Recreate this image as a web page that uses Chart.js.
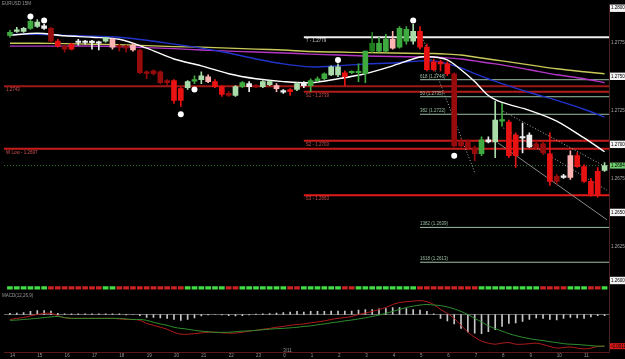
<!DOCTYPE html>
<html>
<head>
<meta charset="utf-8">
<script src="https://cdn.jsdelivr.net/npm/chart.js@4.4.1/dist/chart.umd.min.js"></script>
<style>
  html, body { margin: 0; padding: 0; background: #000; }
</style>
</head>
<body>
<canvas id="priceChart" width="625" height="359"></canvas>
<script>
// EURUSD 15M candles, one per 15 minutes
const hourLabels = ['14','15','16','17','18','19','20','21','22','23','0','1','2','3','4','5','6','7','8','9','10','11'];

const opens = [1.27801,1.27830,1.27830,1.27852,1.27866,1.27870,1.27852,1.27758,1.27722,1.27736,
  1.27751,1.27751,1.27751,1.27743,1.27758,1.27772,1.27722,1.27722,1.27729,1.27693,
  1.27533,1.27540,1.27533,1.27468,1.27468,1.27410,1.27417,1.27464,1.27475,1.27497,
  1.27461,1.27424,1.27374,1.27359,1.27424,1.27446,1.27432,1.27424,1.27439,1.27432,
  1.27395,1.27403,1.27403,1.27432,1.27432,1.27468,1.27482,1.27511,1.27511,1.27526,
  1.27526,1.27526,1.27519,1.27685,1.27685,1.27685,1.27772,1.27714,1.27758,1.27758,
  1.27830,1.27714,1.27606,1.27606,1.27591,1.27519,1.27026,1.27026,1.26975,1.26931,
  1.27018,1.27018,1.27171,1.27163,1.27069,1.27047,1.26982,1.27004,1.27004,1.26931,
  1.26765,1.26757,1.26757,1.26917,1.26837,1.26728,1.26801,1.26808];
const highs = [1.27838,1.27859,1.27859,1.27917,1.27917,1.27881,1.27859,1.27772,1.27729,1.27743,
  1.27772,1.27765,1.27765,1.27758,1.27787,1.27780,1.27736,1.27729,1.27743,1.27700,
  1.27540,1.27548,1.27540,1.27475,1.27475,1.27417,1.27468,1.27504,1.27533,1.27511,
  1.27475,1.27432,1.27388,1.27432,1.27461,1.27461,1.27439,1.27468,1.27468,1.27446,
  1.27403,1.27410,1.27453,1.27461,1.27482,1.27497,1.27526,1.27577,1.27591,1.27540,
  1.27540,1.27591,1.27685,1.27823,1.27787,1.27809,1.27830,1.27866,1.27866,1.27881,
  1.27866,1.27736,1.27627,1.27620,1.27606,1.27526,1.27040,1.27033,1.26989,1.27055,
  1.27055,1.27316,1.27301,1.27178,1.27084,1.27156,1.27084,1.27026,1.27018,1.27084,
  1.26779,1.26779,1.26953,1.26939,1.26852,1.26750,1.26830,1.26866];
const lows = [1.27787,1.27823,1.27823,1.27845,1.27859,1.27845,1.27751,1.27714,1.27678,1.27693,
  1.27729,1.27736,1.27700,1.27693,1.27751,1.27700,1.27685,1.27678,1.27685,1.27519,
  1.27482,1.27511,1.27446,1.27439,1.27301,1.27279,1.27403,1.27446,1.27446,1.27453,
  1.27417,1.27352,1.27352,1.27352,1.27417,1.27388,1.27417,1.27417,1.27432,1.27388,
  1.27374,1.27359,1.27395,1.27417,1.27388,1.27461,1.27475,1.27504,1.27497,1.27432,
  1.27519,1.27461,1.27453,1.27678,1.27678,1.27678,1.27700,1.27707,1.27736,1.27736,
  1.27700,1.27540,1.27540,1.27540,1.27504,1.26982,1.26982,1.26960,1.26881,1.26917,
  1.27011,1.26902,1.27134,1.26902,1.26830,1.26938,1.26975,1.26968,1.26924,1.26699,
  1.26707,1.26750,1.26743,1.26830,1.26721,1.26620,1.26612,1.26801];
const closes = [1.27823,1.27841,1.27852,1.27903,1.27899,1.27852,1.27758,1.27722,1.27700,1.27700,
  1.27748,1.27748,1.27747,1.27754,1.27787,1.27714,1.27714,1.27707,1.27693,1.27526,
  1.27522,1.27519,1.27453,1.27453,1.27323,1.27323,1.27461,1.27475,1.27504,1.27461,
  1.27424,1.27366,1.27359,1.27424,1.27453,1.27424,1.27422,1.27461,1.27461,1.27410,
  1.27384,1.27388,1.27446,1.27450,1.27468,1.27482,1.27519,1.27569,1.27569,1.27497,
  1.27535,1.27535,1.27685,1.27743,1.27743,1.27772,1.27707,1.27852,1.27845,1.27830,
  1.27714,1.27548,1.27548,1.27591,1.27519,1.26989,1.26989,1.26975,1.26931,1.27033,
  1.27033,1.27178,1.27181,1.26917,1.26917,1.27055,1.27069,1.26975,1.26939,1.26728,
  1.26728,1.26768,1.26917,1.26837,1.26728,1.26634,1.26627,1.26844];

// paint-bar state of each candle (3 strong up ... -3 strong down)
const barTrend = [2,1,1,2,1,0,-3,-2,-3,-2,
  0,0,0,0,1,-1,-3,-3,-1,-3,
  -3,-3,-3,-3,-2,-2,1,2,1,-1,
  -2,-2,-3,1,2,0,-3,1,1,-1,
  0,-2,1,0,2,2,2,1,1,-2,
  2,2,2,3,2,2,-1,2,2,1,
  -2,-2,-2,-2,-2,-3,-3,-3,-3,2,
  0,1,2,-2,-2,0,0,-3,-3,-2,
  -3,0,-1,-2,-2,-2,-2,1];

// trend strip under the price pane
const stripState = [1,1,1,1,1,1,-1,-1,-1,-1,-1,-1,-1,-1,1,1,
  -1,-1,-1,-1,-1,-1,-1,-1,-1,-1,1,1,1,1,1,1,-1,-1,
  1,1,1,1,1,1,1,-1,-1,1,1,1,1,1,1,-1,-1,
  1,1,1,1,1,1,1,1,1,-1,-1,-1,-1,-1,-1,-1,-1,-1,
  1,1,1,1,1,1,1,1,1,-1,-1,-1,-1,1,1,1,-1,-1,1];

// moving averages, read at these candles
const maIdx = [0,4,8,12,16,20,24,28,32,36,40,44,48,52,56,60,62,64,66,68,70,72,76,80,84,87];
const maWhite = [1.27801,1.27816,1.27798,1.27787,1.27772,1.27707,1.27627,1.27577,1.27519,1.27482,1.27461,1.27453,1.27482,
  1.27519,1.27577,1.27642,1.27642,1.27620,1.27548,1.27461,1.27359,1.27308,1.27250,1.27171,1.27047,1.26946];
const maBlue = [1.27808,1.27808,1.27801,1.27794,1.27787,1.27765,1.27736,1.27707,1.27671,1.27627,1.27591,1.27569,1.27577,
  1.27591,1.27598,1.27613,1.27613,1.27591,1.27562,1.27519,1.27482,1.27446,1.27381,1.27323,1.27258,1.27200];
const maPurple = [1.27722,1.27722,1.27722,1.27722,1.27718,1.27711,1.27703,1.27693,1.27685,1.27678,1.27671,1.27663,1.27656,
  1.27649,1.27645,1.27642,1.27642,1.27635,1.27627,1.27613,1.27598,1.27584,1.27548,1.27511,1.27482,1.27453];
const maYellow = [1.27743,1.27743,1.27740,1.27736,1.27732,1.27725,1.27718,1.27714,1.27707,1.27700,1.27693,1.27682,1.27678,
  1.27674,1.27671,1.27667,1.27667,1.27663,1.27656,1.27642,1.27627,1.27613,1.27584,1.27555,1.27533,1.27519];

// pivot levels
const levelNames = ['T', '', 'S1', 'S2', 'W Low', 'S3'];
const levelPrices = [1.27787, 1.27426, 1.27386, 1.27026, 1.26968, 1.26627];
const levelStart = [43, null, 43, 43, null, 43];

// fibonacci levels
const fibNames = ['618', '50', '382', '1382', '1618'];
const fibPrices = [1.27475, 1.27350, 1.27221, 1.26390, 1.26134];
const fibStart = 60;

// drawn trend / channel lines
const trendFromIdx = [60, 72.2, 72.2, 71.4];
const trendFromPrice = [1.27830, 1.27243, 1.27120, 1.27011];
const trendToIdx = [68, 87.35, 87.35, 87.35];
const trendToPrice = [1.26794, 1.26830, 1.26663, 1.26446];

// fractal markers
const dotIdx = [3, 5, 25, 27, 48, 59, 65];
const dotPrices = [1.27939, 1.27910, 1.27221, 1.27403, 1.27620, 1.27910, 1.26917];

// MACD(12,26,9)
const macdLine = [-0.00018,-0.00014,-0.00011,-0.00005,0.00000,0.00004,0.00004,-0.00004,-0.00012,-0.00014,
  -0.00014,-0.00014,-0.00014,-0.00014,-0.00014,-0.00014,-0.00016,-0.00018,-0.00018,-0.00021,
  -0.00032,-0.00039,-0.00046,-0.00053,-0.00064,-0.00071,-0.00071,-0.00069,-0.00066,-0.00064,
  -0.00064,-0.00066,-0.00067,-0.00067,-0.00064,-0.00060,-0.00057,-0.00053,-0.00050,-0.00046,
  -0.00043,-0.00039,-0.00036,-0.00034,-0.00030,-0.00027,-0.00023,-0.00018,-0.00014,-0.00011,
  -0.00007,0.00000,0.00005,0.00011,0.00018,0.00025,0.00036,0.00043,0.00046,0.00048,
  0.00050,0.00046,0.00036,0.00018,0.00004,-0.00014,-0.00039,-0.00064,-0.00082,-0.00096,
  -0.00103,-0.00107,-0.00103,-0.00101,-0.00107,-0.00107,-0.00105,-0.00103,-0.00108,-0.00115,
  -0.00121,-0.00119,-0.00117,-0.00121,-0.00124,-0.00121,-0.00115,-0.00114];
const macdSignal = [-0.00021,-0.00020,-0.00018,-0.00016,-0.00014,-0.00011,-0.00009,-0.00007,-0.00011,-0.00014,
  -0.00014,-0.00014,-0.00014,-0.00014,-0.00014,-0.00014,-0.00014,-0.00016,-0.00018,-0.00018,
  -0.00021,-0.00028,-0.00034,-0.00039,-0.00046,-0.00050,-0.00053,-0.00057,-0.00060,-0.00062,
  -0.00064,-0.00064,-0.00064,-0.00062,-0.00060,-0.00059,-0.00057,-0.00055,-0.00053,-0.00051,
  -0.00050,-0.00048,-0.00046,-0.00043,-0.00041,-0.00037,-0.00034,-0.00030,-0.00027,-0.00023,
  -0.00020,-0.00016,-0.00012,-0.00007,-0.00002,0.00004,0.00011,0.00018,0.00025,0.00030,
  0.00034,0.00036,0.00034,0.00032,0.00027,0.00020,0.00011,0.00000,-0.00014,-0.00027,
  -0.00041,-0.00051,-0.00060,-0.00069,-0.00076,-0.00082,-0.00087,-0.00091,-0.00094,-0.00098,
  -0.00101,-0.00105,-0.00107,-0.00108,-0.00110,-0.00112,-0.00114,-0.00114];
const macdHist = [0.00004,0.00005,0.00007,0.00011,0.00014,0.00014,0.00012,0.00004,0.00002,0.00002,
  0.00002,0.00002,0.00002,0.00002,0.00002,0.00002,0.00002,-0.00002,0,-0.00004,
  -0.00011,-0.00011,-0.00012,-0.00014,-0.00018,-0.00021,-0.00018,-0.00012,-0.00005,-0.00002,
  0,-0.00002,-0.00004,-0.00005,-0.00004,-0.00002,0.00001,0.00002,0.00003,0.00005,
  0.00007,0.00009,0.00011,0.00009,0.00011,0.00011,0.00011,0.00012,0.00012,0.00012,
  0.00012,0.00016,0.00018,0.00018,0.00020,0.00021,0.00025,0.00025,0.00021,0.00018,
  0.00016,0.00011,0.00002,-0.00014,-0.00023,-0.00034,-0.00050,-0.00064,-0.00067,-0.00069,
  -0.00062,-0.00055,-0.00043,-0.00032,-0.00030,-0.00025,-0.00018,-0.00012,-0.00014,-0.00018,
  -0.00020,-0.00014,-0.00011,-0.00012,-0.00014,-0.00009,-0.00004,-0.00004];

const xMin = -0.87, xMax = 87.65;
const priceMin = 1.25982, priceMax = 1.28026;
const macdMin = -0.00135, macdMax = 0.00078;

const trendColors = { '3': '#1f7a1f', '2': '#3faa3f', '1': '#a9dca9', '0': '#eeeeee',
  '-1': '#ffb3b3', '-2': '#e81212', '-3': '#960b0b' };
const levelColors = ['#f0f0f0', '#a01818', '#b31c1c', '#c81c1c', '#c81c1c', '#e31b1b'];
const fibColor = '#9dbfa6';
const tinyFont = '4.5px "Liberation Sans"';

Chart.defaults.font.family = 'Liberation Sans';

const idx = opens.map((_, i) => i);

const datasets = [];

// fractal dots on top
datasets.push({
    type: 'line', yAxisID: 'y', order: 0, showLine: false,
    data: dotIdx.map((i, k) => ({ x: i, y: dotPrices[k] })),
    pointRadius: 3, pointBackgroundColor: '#ffffff', pointBorderWidth: 0
});

// candle bodies and wicks
datasets.push({
    type: 'bar', yAxisID: 'y', order: 1, grouped: false, barThickness: 5, minBarLength: 1.5,
    data: idx.map(i => ({ x: i, y: [opens[i], closes[i]] })),
    backgroundColor: c => trendColors[barTrend[c.dataIndex]]
});
datasets.push({
    type: 'bar', yAxisID: 'y', order: 2, grouped: false, barThickness: 1,
    data: idx.map(i => ({ x: i, y: [lows[i], highs[i]] })),
    backgroundColor: c => trendColors[barTrend[c.dataIndex]]
});

// moving averages
[[maWhite, '#ffffff'], [maBlue, '#2233cc'], [maPurple, '#b436c4'], [maYellow, '#c9c95a']].forEach(([vals, col]) => {
    datasets.push({
        type: 'line', yAxisID: 'y', order: 3,
        data: maIdx.map((i, k) => ({ x: i, y: vals[k] })),
        borderColor: col, borderWidth: 1.4, pointRadius: 0, tension: 0.3
    });
});

// trend / channel lines
trendFromIdx.forEach((x0, k) => {
    datasets.push({
        type: 'line', yAxisID: 'y', order: 4,
        data: [{ x: x0, y: trendFromPrice[k] }, { x: trendToIdx[k], y: trendToPrice[k] }],
        borderColor: k === 3 ? '#8a8a8a' : '#b0b0b0', borderWidth: 1,
        borderDash: k === 3 ? [] : [1, 2], pointRadius: 0
    });
});

// pivot lines
levelPrices.forEach((p, k) => {
    datasets.push({
        type: 'line', yAxisID: 'y', order: 5,
        data: [{ x: levelStart[k] ?? xMin, y: p }, { x: xMax, y: p }],
        borderColor: levelColors[k], borderWidth: 2, pointRadius: 0
    });
});

// fib lines
fibPrices.forEach(p => {
    datasets.push({
        type: 'line', yAxisID: 'y', order: 5,
        data: [{ x: fibStart, y: p }, { x: xMax, y: p }],
        borderColor: fibColor, borderWidth: 1, pointRadius: 0
    });
});

// last price dotted line
datasets.push({
    type: 'line', yAxisID: 'y', order: 6,
    data: [{ x: xMin, y: closes[closes.length - 1] }, { x: xMax, y: closes[closes.length - 1] }],
    borderColor: '#2f7a2f', borderWidth: 1, borderDash: [1, 2], pointRadius: 0
});

// trend strip
datasets.push({
    type: 'bar', yAxisID: 'ys', order: 1, grouped: false, barThickness: 5,
    data: idx.map(i => ({ x: i, y: [0.38, 0.62] })),
    backgroundColor: c => stripState[c.dataIndex] > 0 ? '#44dd44' : '#cc2222'
});

// MACD pane
datasets.push({
    type: 'line', yAxisID: 'ym', order: 9,
    data: [{ x: xMin, y: 0 }, { x: xMax, y: 0 }],
    borderColor: '#666666', borderWidth: 1, pointRadius: 0
});
datasets.push({
    type: 'bar', yAxisID: 'ym', order: 8, grouped: false, barThickness: 1,
    data: idx.map(i => ({ x: i, y: macdHist[i] })),
    backgroundColor: '#c8c8c8'
});
datasets.push({
    type: 'line', yAxisID: 'ym', order: 7,
    data: idx.map(i => ({ x: i, y: macdSignal[i] })),
    borderColor: '#2f8f2f', borderWidth: 1, pointRadius: 0, tension: 0.3
});
datasets.push({
    type: 'line', yAxisID: 'ym', order: 7,
    data: idx.map(i => ({ x: i, y: macdLine[i] })),
    borderColor: '#b01c1c', borderWidth: 1, pointRadius: 0, tension: 0.3
});

const isMajor = v => Math.abs(Math.round(v * 10000) % 50) === 0;

const overlayText = {
    id: 'overlayText',
    afterDraw(chart) {
        const { ctx, scales: { x, y, ym } } = chart;
        ctx.save();
        ctx.font = tinyFont;
        ctx.textAlign = 'left';

        ctx.fillStyle = '#999999';
        ctx.textBaseline = 'top';
        ctx.fillText('EURUSD 15M', 2, 2);
        ctx.fillText('MACD(12,26,9)', 2, ym.top + 1);

        // pivot labels sit just under their lines
        levelPrices.forEach((p, k) => {
            const px = x.getPixelForValue(levelStart[k] ?? xMin) + 2;
            const name = levelNames[k] ? levelNames[k] + ' - ' : '';
            ctx.fillStyle = k === 0 ? '#cccccc' : '#d05050';
            ctx.fillText(name + p.toFixed(4), px, y.getPixelForValue(p) + 1.5);
        });

        // fib labels sit above their lines
        ctx.textBaseline = 'bottom';
        ctx.fillStyle = fibColor;
        fibPrices.forEach((p, k) => {
            ctx.fillText(fibNames[k] + ' (' + p.toFixed(4) + ')', x.getPixelForValue(fibStart), y.getPixelForValue(p) - 1);
        });

        ctx.fillStyle = '#999999';
        ctx.fillText('3/11', x.getPixelForValue(40), x.top + 1);

        // value boxes on the right axis
        const lastClose = closes[closes.length - 1];
        const lastMacd = macdLine[macdLine.length - 1];
        const boxes = [[y.getPixelForValue(lastClose), lastClose.toFixed(4), '#6fcf6f'],
                       [ym.getPixelForValue(lastMacd), lastMacd.toFixed(4), '#d81818']];
        ctx.textBaseline = 'middle';
        boxes.forEach(([py, txt, col]) => {
            ctx.fillStyle = col;
            ctx.fillRect(y.left + 1, py - 3, 15, 6);
            ctx.fillStyle = '#000000';
            ctx.fillText(txt, y.left + 2, py + 0.3);
        });
        ctx.restore();
    }
};

const noGrid = { display: false, drawTicks: false, tickLength: 0 };

const paneAxis = (weight, extra) => Object.assign({
    position: 'right', stack: 'panes', stackWeight: weight,
    grid: noGrid, border: { color: '#4a2424' },
    ticks: { display: false },
    afterFit: s => { s.width = 16; }
}, extra);

new Chart(document.getElementById('priceChart'), {
    type: 'bar',
    data: { datasets },
    options: {
        responsive: false,
        animation: false,
        events: [],
        layout: { padding: 0 },
        plugins: { legend: { display: false }, tooltip: { enabled: false } },
        scales: {
            x: {
                type: 'linear', min: xMin, max: xMax, offset: false, position: 'bottom',
                grid: noGrid, border: { color: '#5a1a1a' },
                ticks: {
                    stepSize: 4, includeBounds: false, autoSkip: false, maxRotation: 0,
                    align: 'start', padding: 1, color: '#9a9a9a',
                    font: { size: 4.5 },
                    callback: v => hourLabels[v / 4] ?? ''
                },
                afterFit: s => { s.height = 7; }
            },
            y: paneAxis(282, {
                min: priceMin, max: priceMax,
                ticks: {
                    stepSize: 0.0025, includeBounds: false, padding: 2,
                    font: { size: 4.5 },
                    color: c => isMajor(c.tick.value) ? '#000000' : '#aaaaaa',
                    showLabelBackdrop: true,
                    backdropColor: c => isMajor(c.tick.value) ? '#f2f2f2' : 'rgba(0,0,0,0)',
                    backdropPadding: 1,
                    callback: v => v.toFixed(4)
                }
            }),
            ys: paneAxis(10, { min: 0, max: 1 }),
            ym: paneAxis(60, { min: macdMin, max: macdMax })
        }
    },
    plugins: [overlayText]
});
</script>
</body>
</html>
